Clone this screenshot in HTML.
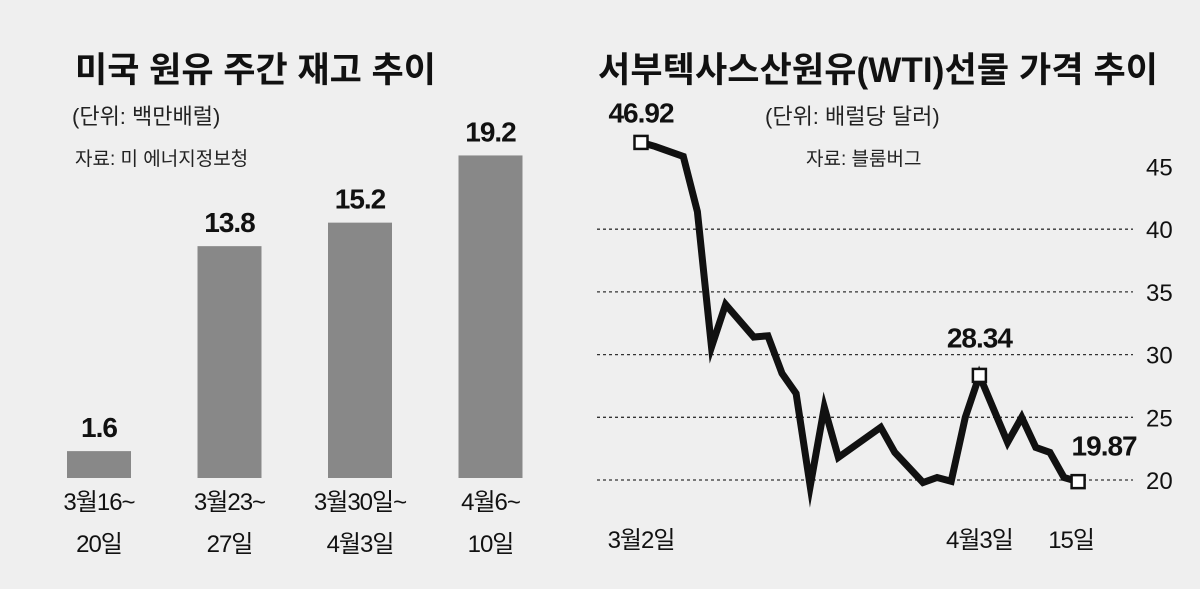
<!DOCTYPE html>
<html><head><meta charset="utf-8"><style>
body{margin:0;background:#efefef;}
#c{width:1200px;height:589px;position:relative;overflow:hidden;background:#efefef;font-family:"Liberation Sans","Noto Sans CJK KR",sans-serif;}
</style></head><body>
<div id="c">
<svg id="s" width="1200" height="589" xmlns="http://www.w3.org/2000/svg" style="font-family:'Liberation Sans','Noto Sans CJK KR',sans-serif">
<text x="75" y="82" font-size="35" font-weight="bold" fill="#111">미국 원유 주간 재고 추이</text>
<text x="72" y="124" font-size="22" fill="#222">(단위: 백만배럴)</text>
<text x="75" y="165" font-size="19" fill="#222">자료: 미 에너지정보청</text>
<text x="598" y="82" font-size="35" font-weight="bold" fill="#111" textLength="560">서부텍사스산원유(WTI)선물 가격 추이</text>
<text x="765" y="124" font-size="22" fill="#222">(단위: 배럴당 달러)</text>
<text x="806" y="165" font-size="19" fill="#222">자료: 블룸버그</text>
<g id="bars"></g><g id="line"></g>
</svg>
</div>
<script>
const barCats1=["3월16~","3월23~","3월30일~","4월6~"];
const barCats2=["20일","27일","4월3일","10일"];
const barValues=[1.6,13.8,15.2,19.2];
const lineIdx=[0,1,3,4,5,6,8,9,10,11,12,13,14,17,18,20,21,22,23,24,26,27,28,29,30,31];
const lineVals=[46.92,46.6,45.8,41.4,30.6,34.0,31.4,31.5,28.5,26.9,19.5,25.8,21.8,24.2,22.2,19.8,20.2,19.9,25.0,28.34,23.0,25.0,22.6,22.2,20.2,19.87];
const yTicks=[20,25,30,35,40,45];
const xLabels=[[0,"3월2일"],[24,"4월3일"],[31,"15일"]];
const NS="http://www.w3.org/2000/svg";
function mk(t,a,p,txt){const e=document.createElementNS(NS,t);for(const k in a)e.setAttribute(k,a[k]);if(txt!=null)e.textContent=txt;p.appendChild(e);return e;}
// bar chart
const bg=document.getElementById('bars');
const by=v=>478-v*16.8, bx=i=>67+i*130.5;
barValues.forEach((v,i)=>{
 const r=mk('rect',{x:bx(i),y:by(v),width:64,height:478-by(v),fill:'#888'},bg);
 
 
 const t=mk('text',{x:bx(i)+32,y:by(v)-14,'font-size':28,'text-anchor':'middle','font-weight':'bold',fill:'#111','letter-spacing':'-1'},bg,String(v));
 
 
 const a=mk('text',{x:bx(i)+32,y:510,'font-size':24,'text-anchor':'middle',fill:'#111','letter-spacing':'-1'},bg,barCats1[i]);
 
 
 const b=mk('text',{x:bx(i)+32,y:552,'font-size':24,'text-anchor':'middle',fill:'#111','letter-spacing':'-1'},bg,barCats2[i]);
 
 
});
// line chart
const lg=document.getElementById('line');
const ly=v=>480-(v-20)*12.54, lx=i=>641+i*14.1;
yTicks.forEach(v=>{
 if(v<45){const g=mk('line',{x1:597,x2:1133,y1:ly(v),y2:ly(v),stroke:'#333','stroke-width':1.3,'stroke-dasharray':'3 3'},lg);
 
 }
 const t=mk('text',{x:1146,y:ly(v)+9,'font-size':24,fill:'#111'},lg,String(v));
 
 
});
const pts=lineIdx.map((d,i)=>lx(d)+','+ly(lineVals[i])).join(' ');
const pl=mk('polyline',{points:pts,fill:'none',stroke:'#111','stroke-width':7,'stroke-linejoin':'miter','stroke-miterlimit':10},lg);


[[0,"46.92",0,-20],[19,"28.34",0,-28],[25,"19.87",26,-26]].forEach(([k,l,dx,dy])=>{
 const x=lx(lineIdx[k]),y=ly(lineVals[k]);
 const m=mk('rect',{x:x-6.5,y:y-6.5,width:13,height:13,fill:'#fff',stroke:'#111','stroke-width':2.5},lg);
 
 
 const t=mk('text',{x:x+dx,y:y+dy,'font-size':28,'text-anchor':'middle','font-weight':'bold',fill:'#111','letter-spacing':'-1'},lg,l);
 
 
});
xLabels.forEach(([d,l])=>{
 const t=mk('text',{x:lx(d)+(d==31?-7:0),y:548,'font-size':24,'text-anchor':'middle',fill:'#111','letter-spacing':'-1'},lg,l);
 
 
});
</script>
</body></html>
